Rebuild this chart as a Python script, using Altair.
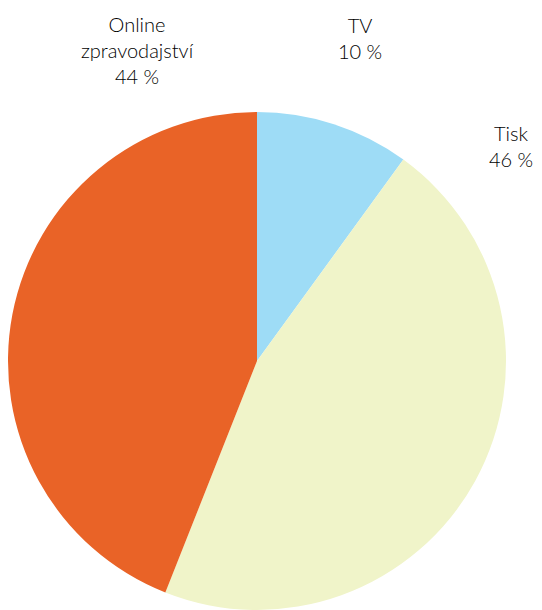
import altair as alt
import pandas as pd

categories = ["TV", "Tisk", "Online zpravodajství"]
label_lines = ["TV", "Tisk", "Online\nzpravodajství"]
values = [10, 46, 44]
colors = ["#9EDCF6", "#F0F4C9", "#E96327"]

df = pd.DataFrame({
    "category": categories,
    "label": label_lines,
    "value": values,
    "order": list(range(len(categories))),
})

pie = alt.Chart(df).mark_arc(radius=249, strokeWidth=0).encode(
    theta=alt.Theta("value:Q", stack=True),
    color=alt.Color("category:N", scale=alt.Scale(domain=categories, range=colors), legend=None),
    order=alt.Order("order:Q"),
    x=alt.value(249),
    y=alt.value(353),
)

label_pos = {"TV": (352, 25), "Tisk": (503, 133), "Online zpravodajství": (129, 24)}

layers = [pie]
for cat in categories:
    px, py = label_pos[cat]
    t = alt.Chart(df).transform_filter(
        alt.datum.category == cat
    ).transform_calculate(
        txt="datum.label + '\\n' + datum.value + ' %'"
    ).mark_text(
        font="Lato", fontSize=20, fontWeight=300, color="#000000", align="center",
        baseline="alphabetic", lineBreak="\n", lineHeight=26,
    ).encode(
        text="txt:N",
        x=alt.value(px),
        y=alt.value(py),
    )
    layers.append(t)

chart = alt.layer(*layers).properties(
    width=526, height=602, padding=0, background="white",
    autosize=alt.AutoSizeParams(type="none"),
).configure_view(stroke=None)

chart.save("out.html", embed_options={"renderer": "svg", "actions": False})
